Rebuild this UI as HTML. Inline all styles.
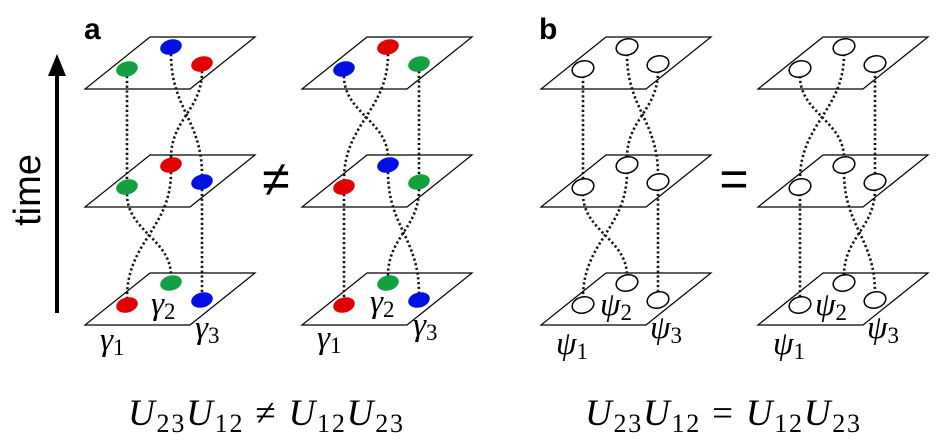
<!DOCTYPE html>
<html><head><meta charset="utf-8"><style>
html,body{margin:0;padding:0;background:#fff;width:943px;height:447px;overflow:hidden}
svg{display:block}
.lab{font-family:"Liberation Serif",serif;font-style:italic;font-size:33px}
.sub{font-size:23px;font-style:normal}
.eq{font-family:"Liberation Serif",serif;font-size:37px}
</style></head><body>
<svg id="s" width="943" height="447" viewBox="0 0 943 447">
<text x="84" y="39" font-family="Liberation Sans,sans-serif" font-weight="bold" font-size="30">a</text>
<text x="539" y="39" font-family="Liberation Sans,sans-serif" font-weight="bold" font-size="30">b</text>
<line x1="57" y1="313" x2="57" y2="75" stroke="#000" stroke-width="4"/>
<polygon points="48,76 66,76 57,54" fill="#000"/>
<text transform="translate(40,190) rotate(-90)" text-anchor="middle" font-family="Liberation Sans,sans-serif" font-size="38">time</text>
<text x="276" y="196" text-anchor="middle" font-family="Liberation Sans,sans-serif" font-size="50">≠</text>
<text x="734" y="196" text-anchor="middle" font-family="Liberation Sans,sans-serif" font-size="50">=</text>
<g id="g"></g>
<g class="lab">
<text x="100" y="350">γ<tspan class="sub" dy="5">1</tspan></text>
<text x="151" y="314">γ<tspan class="sub" dy="5">2</tspan></text>
<text x="195" y="338">γ<tspan class="sub" dy="5">3</tspan></text>
<text x="317" y="348">γ<tspan class="sub" dy="5">1</tspan></text>
<text x="370" y="312">γ<tspan class="sub" dy="5">2</tspan></text>
<text x="413" y="335">γ<tspan class="sub" dy="5">3</tspan></text>
<text x="556" y="354">ψ<tspan class="sub" dy="5">1</tspan></text>
<text x="600" y="315">ψ<tspan class="sub" dy="5">2</tspan></text>
<text x="650" y="338">ψ<tspan class="sub" dy="5">3</tspan></text>
<text x="773" y="354">ψ<tspan class="sub" dy="5">1</tspan></text>
<text x="815" y="315">ψ<tspan class="sub" dy="5">2</tspan></text>
<text x="867" y="338">ψ<tspan class="sub" dy="5">3</tspan></text>
</g>
<text class="eq" x="128" y="425" textLength="275"><tspan font-style="italic">U</tspan><tspan font-size="26" dy="7">23</tspan><tspan font-style="italic" dy="-7">U</tspan><tspan font-size="26" dy="7">12</tspan><tspan dy="-7"> ≠ </tspan><tspan font-style="italic">U</tspan><tspan font-size="26" dy="7">12</tspan><tspan font-style="italic" dy="-7">U</tspan><tspan font-size="26" dy="7">23</tspan></text>
<text class="eq" x="585" y="425" textLength="275"><tspan font-style="italic">U</tspan><tspan font-size="26" dy="7">23</tspan><tspan font-style="italic" dy="-7">U</tspan><tspan font-size="26" dy="7">12</tspan><tspan dy="-7"> = </tspan><tspan font-style="italic">U</tspan><tspan font-size="26" dy="7">12</tspan><tspan font-style="italic" dy="-7">U</tspan><tspan font-size="26" dy="7">23</tspan></text>
</svg>
<script>
(function(){
var g=document.getElementById('g'),h='';
var P={A:[-23,32],B:[21,10],C:[52,27]};
var tops=[37,155,273];
var R='#e00000',G='#12a040',B='#0010e0';
function stack(ox,cols,perm1,perm2,open){
 tops.forEach(function(t){
  h+='<polygon points="'+(ox)+','+t+' '+(ox+105)+','+t+' '+(ox+40)+','+(t+52)+' '+(ox-65)+','+(t+52)+'" fill="#fff" stroke="#000" stroke-width="1.2"/>';
 });
 function conn(tu,tl,perm){
  for(var k in perm){
   var u=P[perm[k]],l=P[k];
   var x1=ox+u[0], y1=tu+u[1]+7;
   var x2=ox+l[0], y2=tl+l[1]-7;
   var m=(y2-y1)*0.45;
   h+='<path d="M'+x1+','+y1+' C'+x1+','+(y1+m)+' '+x2+','+(y2-m)+' '+x2+','+y2+'" fill="none" stroke="#111" stroke-width="2.6" stroke-dasharray="2.2 2.6"/>';
  }
 }
 conn(tops[0],tops[1],perm1);
 conn(tops[1],tops[2],perm2);
 tops.forEach(function(t,i){
  ['A','B','C'].forEach(function(s){
   var p=P[s];
   if(open) h+='<ellipse cx="'+(ox+p[0])+'" cy="'+(t+p[1])+'" rx="11" ry="8" transform="rotate(-15 '+(ox+p[0])+' '+(t+p[1])+')" fill="#fff" stroke="#000" stroke-width="1.5"/>';
   else h+='<ellipse cx="'+(ox+p[0])+'" cy="'+(t+p[1])+'" rx="11" ry="7.5" transform="rotate(-15 '+(ox+p[0])+' '+(t+p[1])+')" fill="'+cols[i][s]+'"/>';
  });
 });
}
var p1a={A:'A',B:'C',C:'B'},p1b={A:'B',B:'A',C:'C'};
var p2a={A:'B',B:'A',C:'C'},p2b={A:'A',B:'C',C:'B'};
stack(150,[{A:G,B:B,C:R},{A:G,B:R,C:B},{A:R,B:G,C:B}],p1a,p1b,false);
stack(367,[{A:B,B:R,C:G},{A:R,B:B,C:G},{A:R,B:G,C:B}],p2a,p2b,false);
stack(606,null,p1a,p1b,true);
stack(823,null,p2a,p2b,true);
g.innerHTML=h;
})();
</script>
</body></html>
